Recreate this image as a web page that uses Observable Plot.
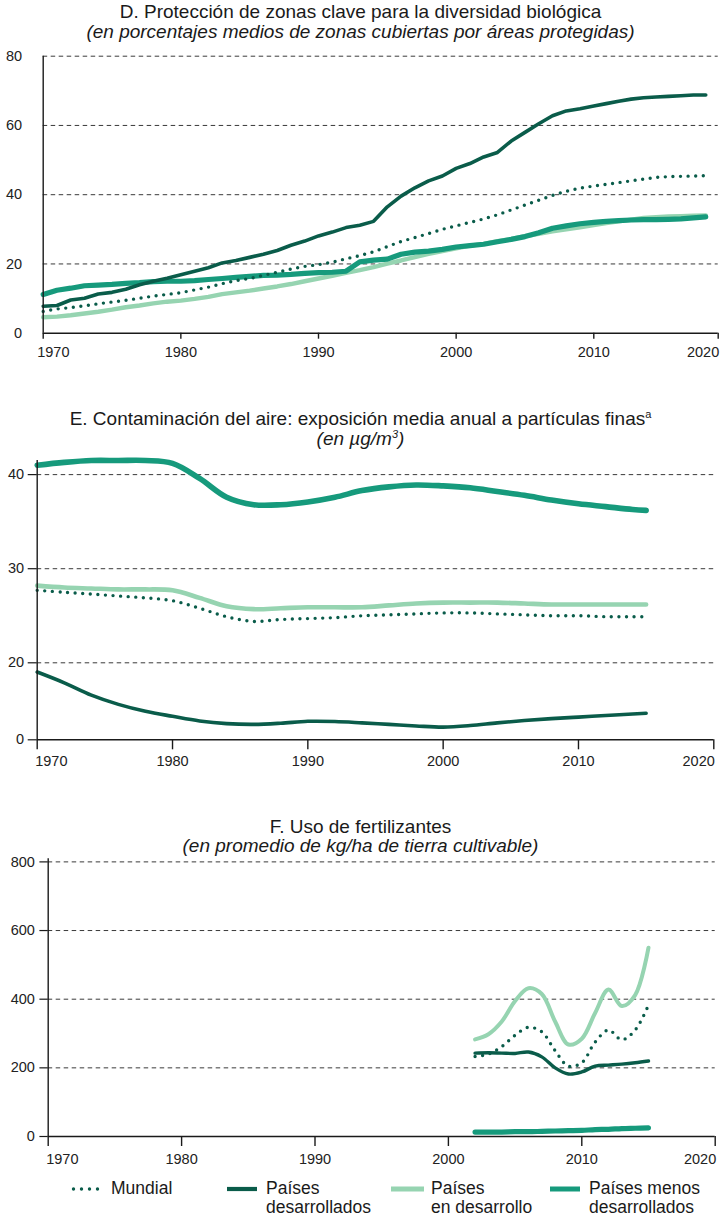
<!DOCTYPE html>
<html><head><meta charset="utf-8">
<script src="https://cdn.jsdelivr.net/npm/d3@7"></script>
<script src="https://cdn.jsdelivr.net/npm/@observablehq/plot@0.6"></script>
<style>
body{margin:0;background:#fff;}
#root{position:relative;width:721px;height:1217px;font-family:"Liberation Sans",Arial,sans-serif;color:#1a1a1a;overflow:hidden;}
.t{position:absolute;left:0;width:721px;text-align:center;font-size:19px;line-height:19px;white-space:nowrap;}
.i{font-style:italic;}
.t sup{font-size:11px;line-height:0;vertical-align:7px;}
.chart{position:absolute;left:0;}
.lt{position:absolute;font-size:17.5px;line-height:19px;white-space:nowrap;}
.sw{position:absolute;}
</style></head><body>
<div id="root">
  <div class="t" style="top:2px">D. Protección de zonas clave para la diversidad biológica</div>
  <div class="t i" style="top:22px">(en porcentajes medios de zonas cubiertas por áreas protegidas)</div>
  <div class="chart" id="cD" style="top:40px"></div>
  <div class="t" style="top:409px">E. Contaminación del aire: exposición media anual a partículas finas<sup>a</sup></div>
  <div class="t i" style="top:429px">(en µg/m<sup>3</sup>)</div>
  <div class="chart" id="cE" style="top:450px"></div>
  <div class="t" style="top:817px">F. Uso de fertilizantes</div>
  <div class="t i" style="top:836px">(en promedio de kg/ha de tierra cultivable)</div>
  <div class="chart" id="cF" style="top:850px"></div>
  <div id="legend"></div>
</div>
<script>
// ---------- data ----------
const seriesNames = ["Mundial", "Países desarrollados", "Países en desarrollo", "Países menos desarrollados"];
const seriesColors = ["#0a5c4a", "#0a5c4a", "#96d4b1", "#169a7c"];

// D. Protección de zonas clave (%)
const yearsD = d3.range(1970, 2020);
const worldD = [6.3,7.0,7.4,7.9,8.5,9.0,9.5,10.1,10.7,11.2, 11.7,12.5,13.3,14.3,15.2,15.8,16.7,17.6,18.5,19.3, 19.8,20.5,21.5,22.4,23.5,25.0,26.5,27.6,28.8,30.0, 31.0,32.0,33.0,34.2,35.6,37.0,38.4,39.8,41.0,41.9, 42.5,43.0,43.5,44.0,44.5,45.0,45.2,45.3,45.4,45.5];
const devD = [7.8,8.0,9.6,10.1,11.3,11.8,12.7,14.0,15.0,15.9, 16.9,17.9,18.9,20.3,21.0,21.9,22.8,23.9,25.4,26.6, 28.1,29.2,30.5,31.2,32.3,36.5,39.6,42.0,44.0,45.4, 47.6,49.0,50.9,52.2,55.5,58.0,60.5,62.8,64.2,64.8, 65.6,66.3,67.0,67.6,68.0,68.2,68.4,68.6,68.8,68.8];
const devingD = [4.6,4.8,5.2,5.7,6.2,6.8,7.5,8.0,8.6,9.1, 9.4,9.9,10.5,11.3,11.8,12.3,12.9,13.5,14.2,15.0, 15.8,16.6,17.4,18.2,19.1,20.1,21.0,22.0,22.9,23.7, 24.5,25.3,25.8,26.6,27.2,28.0,28.7,29.4,30.0,30.6, 31.2,31.8,32.3,32.8,33.3,33.5,33.7,33.8,33.9,34.0];
const ldcD = [11.2,12.4,13.0,13.7,13.9,14.1,14.4,14.6,14.9,15.0, 15.0,15.2,15.5,15.8,16.1,16.4,16.7,16.8,17.0,17.3, 17.5,17.6,17.9,20.6,21.1,21.4,22.8,23.4,23.7,24.2, 24.9,25.3,25.7,26.4,27.1,27.9,29.0,30.3,31.0,31.6, 32.0,32.3,32.5,32.7,32.8,32.8,32.9,33.0,33.3,33.6];
const xTicksD = [1970,1980,1990,2000,2010,2020];
const yTicksD = [0,20,40,60,80];

// E. Contaminación del aire (µg/m3)
const yearsE = [1970,1972,1974,1976,1978,1980,1982,1984,1986,1988,1990,1992,1994,1996,1998,2000,2002,2004,2006,2008,2010,2012,2014,2015];
const worldE = [27.7,27.5,27.3,27.1,26.9,26.6,25.8,24.9,24.4,24.6,24.7,24.8,25.0,25.1,25.2,25.3,25.3,25.2,25.1,25.0,25.0,24.9,24.9,24.9];
const devE = [17.6,14.8,11.6,9.2,7.4,6.1,4.9,4.2,4.0,4.3,4.8,4.75,4.4,4.0,3.6,3.3,3.7,4.4,5.0,5.5,5.9,6.3,6.7,6.9];
const devingE = [28.2,28.0,27.9,27.8,27.8,27.7,26.9,26.0,25.7,25.8,25.9,25.9,25.9,26.1,26.3,26.4,26.4,26.4,26.3,26.2,26.2,26.2,26.2,26.2];
const ldcE = [41.0,41.3,41.5,41.5,41.5,41.2,39.6,37.6,36.8,36.8,37.1,37.6,38.3,38.7,38.9,38.8,38.6,38.2,37.8,37.3,36.9,36.6,36.3,36.2];
const xTicksE = [1970,1980,1990,2000,2010,2020];
const yTicksE = [0,20,30,40];

// F. Uso de fertilizantes (kg/ha)
const yearsF = [2002,2003,2004,2005,2006,2007,2008,2009,2010,2011,2012,2013,2014,2015];
const worldF = [233,240,262,295,318,305,250,205,215,275,310,282,310,383];
const devF = [243,244,243,242,246,232,200,182,188,205,208,211,215,220];
const devingF = [283,298,335,395,432,415,335,268,285,360,428,380,412,550];
const ldcF = [13,13,13,14,14,15,16,17,18,20,21,23,24,25];
const xTicksF = [1970,1980,1990,2000,2010,2020];
const yTicksF = [0,200,400,600,800];

// ---------- helpers ----------
const FONT = '"Liberation Sans", Arial, sans-serif';
const toRows = (years, vals) => years.map((year, i) => ({year, value: vals[i]}));
const GRID = {stroke: "#3a3a3a", strokeDasharray: "4.5,3.5", strokeWidth: 1};
const AX = {stroke: "#1a1a1a", strokeWidth: 1.4};
const fmt = d => String(d);

function seriesMarks(years, w, d, dv, l, curve, widths) {
  const [wd, wdev, wdv, wl] = widths;
  return [
    Plot.line(toRows(years, dv), {x: "year", y: "value", stroke: seriesColors[2], strokeWidth: wdv, curve, strokeLinejoin: "round"}),
    Plot.line(toRows(years, l), {x: "year", y: "value", stroke: seriesColors[3], strokeWidth: wl, curve, strokeLinejoin: "round"}),
    Plot.line(toRows(years, d), {x: "year", y: "value", stroke: seriesColors[1], strokeWidth: wdev, curve, strokeLinejoin: "round"}),
    Plot.line(toRows(years, w), {x: "year", y: "value", stroke: seriesColors[0], strokeWidth: wd, curve, strokeDasharray: "0,7.6", strokeLinecap: "round"})
  ];
}

function xAxes(ticks, tickSize, pad, dxFirst) {
  return [
    Plot.axisX(ticks, {tickSize, tickFormat: () => "", stroke: "#1a1a1a", strokeWidth: 1.4, label: null}),
    Plot.axisX(ticks.slice(1, -1), {tickSize: 0, tickPadding: tickSize + pad, tickFormat: fmt, label: null}),
    Plot.axisX([ticks[0]], {tickSize: 0, tickPadding: tickSize + pad, tickFormat: fmt, textAnchor: "start", dx: dxFirst, label: null}),
    Plot.axisX([ticks[ticks.length - 1]], {tickSize: 0, tickPadding: tickSize + pad, tickFormat: fmt, textAnchor: "end", dx: 1, label: null})
  ];
}

const style = {fontFamily: FONT, fontSize: "14.5px", color: "#222", background: "transparent", overflow: "visible"};

// ---------- D ----------
document.getElementById("cD").append(Plot.plot({
  width: 721, height: 330, style,
  marginTop: 15.7, marginBottom: 37.3, marginLeft: 42.7, marginRight: 3.3,
  x: {type: "linear", domain: [1970, 2010, 2020], range: [42.7, 593.3, 717.7], label: null},
  y: {type: "linear", domain: [0, 80], range: [292.7, 15.7], label: null},
  marks: [
    Plot.ruleY(yTicksD.filter(d => d > 0), GRID),
    ...seriesMarks(yearsD, worldD, devD, devingD, ldcD, "linear", [3.4, 3.6, 4.4, 5.2]),
    Plot.ruleX([1970], {y1: 0, y2: 80, ...AX}),
    Plot.ruleY([0], AX),
    Plot.axisY(yTicksD, {tickSize: 0, tickPadding: 21, tickFormat: fmt, label: null}),
    ...xAxes(xTicksD, 6, 7.8, -6)
  ]
}));

// ---------- E ----------
document.getElementById("cE").append(Plot.plot({
  width: 721, height: 310, style,
  marginTop: 10, marginBottom: 20.7, marginLeft: 36.7, marginRight: 7.7,
  x: {type: "linear", domain: [1970, 2020], range: [36.7, 713.3], label: null},
  y: {type: "linear", domain: [0, 20, 41.5], range: [289.3, 212.3, 10], label: null},
  marks: [
    Plot.ruleY(yTicksE.filter(d => d > 0), GRID),
    ...seriesMarks(yearsE, worldE, devE, devingE, ldcE, "catmull-rom", [3.4, 3.6, 4.6, 5.6]),
    Plot.ruleX([1970], {y1: 0, y2: 41.5, ...AX}),
    Plot.ruleY([0], AX),
    Plot.axisY(yTicksE, {tickSize: 9, tickPadding: 4, tickFormat: fmt, stroke: "#1a1a1a", strokeWidth: 1.2, label: null}),
    ...xAxes(xTicksE, 10, 5.8, -2)
  ]
}));

// ---------- F ----------
document.getElementById("cF").append(Plot.plot({
  width: 721, height: 330, style,
  marginTop: 8.3, marginBottom: 44, marginLeft: 47.7, marginRight: 6.3,
  x: {type: "linear", domain: [1970, 2020], range: [47.7, 714.7], label: null},
  y: {type: "linear", domain: [0, 809], range: [286, 8.3], label: null},
  marks: [
    Plot.ruleY(yTicksF.filter(d => d > 0), GRID),
    ...seriesMarks(yearsF, worldF, devF, devingF, ldcF, "catmull-rom", [3.4, 3.4, 4.0, 5.2]),
    Plot.ruleX([1970], {y1: 0, y2: 809, ...AX}),
    Plot.ruleY([0], AX),
    Plot.axisY(yTicksF, {tickSize: 8.3, tickPadding: 5, tickFormat: fmt, stroke: "#1a1a1a", strokeWidth: 1.2, label: null}),
    ...xAxes(xTicksF, 10, 6.8, -2)
  ]
}));

// ---------- legend ----------
const legendItems = [
  {sw: 72, sww: 28, tx: 111, lines: ["Mundial"], dotted: true},
  {sw: 227, sww: 30, tx: 266, lines: ["Países", "desarrollados"]},
  {sw: 391, sww: 33, tx: 431, lines: ["Países", "en desarrollo"]},
  {sw: 550, sww: 30, tx: 589, lines: ["Países menos", "desarrollados"]}
];
const leg = document.getElementById("legend");
const swWidths = [3.4, 4.2, 5, 5];
legendItems.forEach((it, i) => {
  const ns = "http://www.w3.org/2000/svg";
  const svg = document.createElementNS(ns, "svg");
  svg.setAttribute("width", it.sww + 6); svg.setAttribute("height", 10);
  svg.setAttribute("class", "sw");
  svg.style.left = (it.sw - 3) + "px"; svg.style.top = "1184px";
  const ln = document.createElementNS(ns, "line");
  ln.setAttribute("x1", 3 + (it.dotted ? 1.5 : 0)); ln.setAttribute("x2", 3 + it.sww - (it.dotted ? 1.5 : 0));
  ln.setAttribute("y1", 5); ln.setAttribute("y2", 5);
  ln.setAttribute("stroke", seriesColors[i]); ln.setAttribute("stroke-width", swWidths[i]);
  if (it.dotted) { ln.setAttribute("stroke-dasharray", "0,8"); ln.setAttribute("stroke-linecap", "round"); }
  svg.append(ln);
  leg.append(svg);
  const t = document.createElement("div");
  t.className = "lt"; t.style.left = it.tx + "px"; t.style.top = "1179px";
  t.innerHTML = it.lines.join("<br>");
  leg.append(t);
});
</script>
</body></html>
